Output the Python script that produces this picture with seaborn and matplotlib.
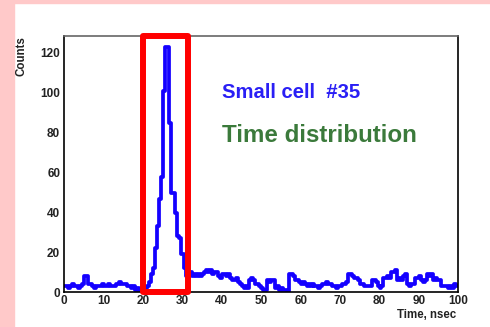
import numpy as np
import pandas as pd
import matplotlib
matplotlib.use("Agg")
import matplotlib.pyplot as plt
from matplotlib.patches import Rectangle
import seaborn as sns

# ---- data (0.5 ns bins, 0..100 ns) ----
bin_width = 0.5
counts_0_20 = [3, 3, 2, 3, 4, 3, 3, 2, 3, 4,
               8, 8, 4, 4, 3, 2, 3, 3,
               3, 4, 3, 3, 4, 3, 3, 3,
               4, 4, 5, 4, 4, 4, 3, 3, 2, 3, 1, 2, 1, 1]
counts_20_32 = [1, 2, 3, 5, 9, 12, 22, 33, 47, 58, 101, 123,
                123, 85, 50, 50, 40, 28, 27, 19, 19, 12, 8, 10]
counts_32_45 = [10, 8, 9, 8, 9, 8, 9, 10, 11, 10, 11, 9, 10,
                10, 8, 7, 9, 9, 8, 9, 7, 6, 6, 7, 5, 4]
counts_45_100 = [3, 2, 3, 2, 6, 7, 6, 4, 4, 3, 2, 1, 1,
                 6, 5, 6, 6, 2, 3, 1, 2, 1, 1, 0, 9, 9, 8, 6, 6,
                 5, 4, 5, 4, 3, 4, 3, 4, 3, 3, 2, 3,
                 4, 4, 5, 4, 4, 3, 3, 2, 3, 3, 4, 4, 5,
                 9, 9, 8, 7, 7, 6, 4, 4, 3, 3, 3, 3, 6, 6, 5,
                 3, 2, 3, 7, 7, 8, 7, 10, 10, 11, 6, 7, 6, 8, 9,
                 4, 3, 4, 4, 7, 7, 8, 6, 5, 6, 9, 8, 9, 6, 7, 6, 6,
                 3, 3, 3, 3, 2, 3, 2, 4, 3]
counts = counts_0_20 + counts_20_32 + counts_32_45 + counts_45_100
x_ticks = [0, 10, 20, 30, 40, 50, 60, 70, 80, 90, 100]
y_ticks = [0, 20, 40, 60, 80, 100, 120]
highlight_range = (20.0, 31.5)
label_cell = "Small cell  #35"
label_title = "Time distribution"

n_bins = len(counts)
centers = (np.arange(n_bins) + 0.5) * bin_width
df = pd.DataFrame({"time": centers, "count": np.asarray(counts, dtype=float)})

# ---- figure ----
sns.set_theme(style="white")
plt.rcParams["font.family"] = ["Liberation Sans", "DejaVu Sans"]
plt.rcParams["font.weight"] = "bold"

W, H = 490, 327
fig = plt.figure(figsize=(W / 100, H / 100), dpi=100, facecolor="white")
fig.patches.append(Rectangle((0, 0), 14 / W, 1, transform=fig.transFigure,
                             color="#FFC9C9", zorder=0))
fig.patches.append(Rectangle((0, 1 - 3 / H), 1, 3 / H, transform=fig.transFigure,
                             color="#FFC9C9", zorder=0))

ax = fig.add_axes([64.3 / W, 1 - 292.3 / H, 394 / W, 256.3 / H])
ax.set_facecolor("white")

sns.histplot(data=df, x="time", weights="count", binwidth=bin_width,
             binrange=(0, n_bins * bin_width), element="step",
             fill=False, color="#1400FF", linewidth=2.7, ax=ax)

ax.set_xlim(0, 100)
ax.set_ylim(0, 128.5)
ax.set_xticks(x_ticks)
ax.set_yticks(y_ticks)
ax.set_xticks(np.arange(0, 101, 2), minor=True)
ax.set_yticks(np.arange(0, 129, 4), minor=True)
ax.tick_params(axis="both", which="both", direction="in", labelsize=8.5,
               colors="black", labelcolor="#222222")
ax.tick_params(axis="x", which="major", length=4.5, width=1.1, pad=2)
ax.tick_params(axis="x", which="minor", length=2.3, width=0.8)
ax.tick_params(axis="y", which="major", length=9.4, width=1.1, pad=3)
ax.tick_params(axis="y", which="minor", length=5, width=0.9)
ax.tick_params(top=False, right=False)
for lab in ax.get_xticklabels() + ax.get_yticklabels():
    lab.set_fontweight("bold")
for side, sp in ax.spines.items():
    sp.set_visible(True)
    sp.set_color("black")
    sp.set_linewidth(1.2)
ax.spines["top"].set_color("#666666")

ax.set_xlabel("")
ax.set_ylabel("")
fig.text(456 / W, 1 - 315 / H, "Time, nsec", ha="right", va="center",
         fontsize=8.3, fontweight="bold", color="#222222")
fig.text(21 / W, 1 - 36 / H, "Counts", ha="center", va="top", rotation=90,
         fontsize=8.3, fontweight="bold", color="#222222")

# highlight box
ax.add_patch(Rectangle((highlight_range[0], 0), highlight_range[1] - highlight_range[0],
                       128.3, fill=False, edgecolor="#FF0000", linewidth=4.3,
                       joinstyle="round", clip_on=False, zorder=5))

ax.text(0.40, 0.781, label_cell, transform=ax.transAxes, ha="left", va="center",
        fontsize=14.6, fontweight="bold", color="#2A1FF5")
ax.text(0.40, 0.61, label_title, transform=ax.transAxes, ha="left", va="center",
        fontsize=17.4, fontweight="bold", color="#3B7A3B")

fig.savefig("out.png", dpi=100, facecolor="white")
